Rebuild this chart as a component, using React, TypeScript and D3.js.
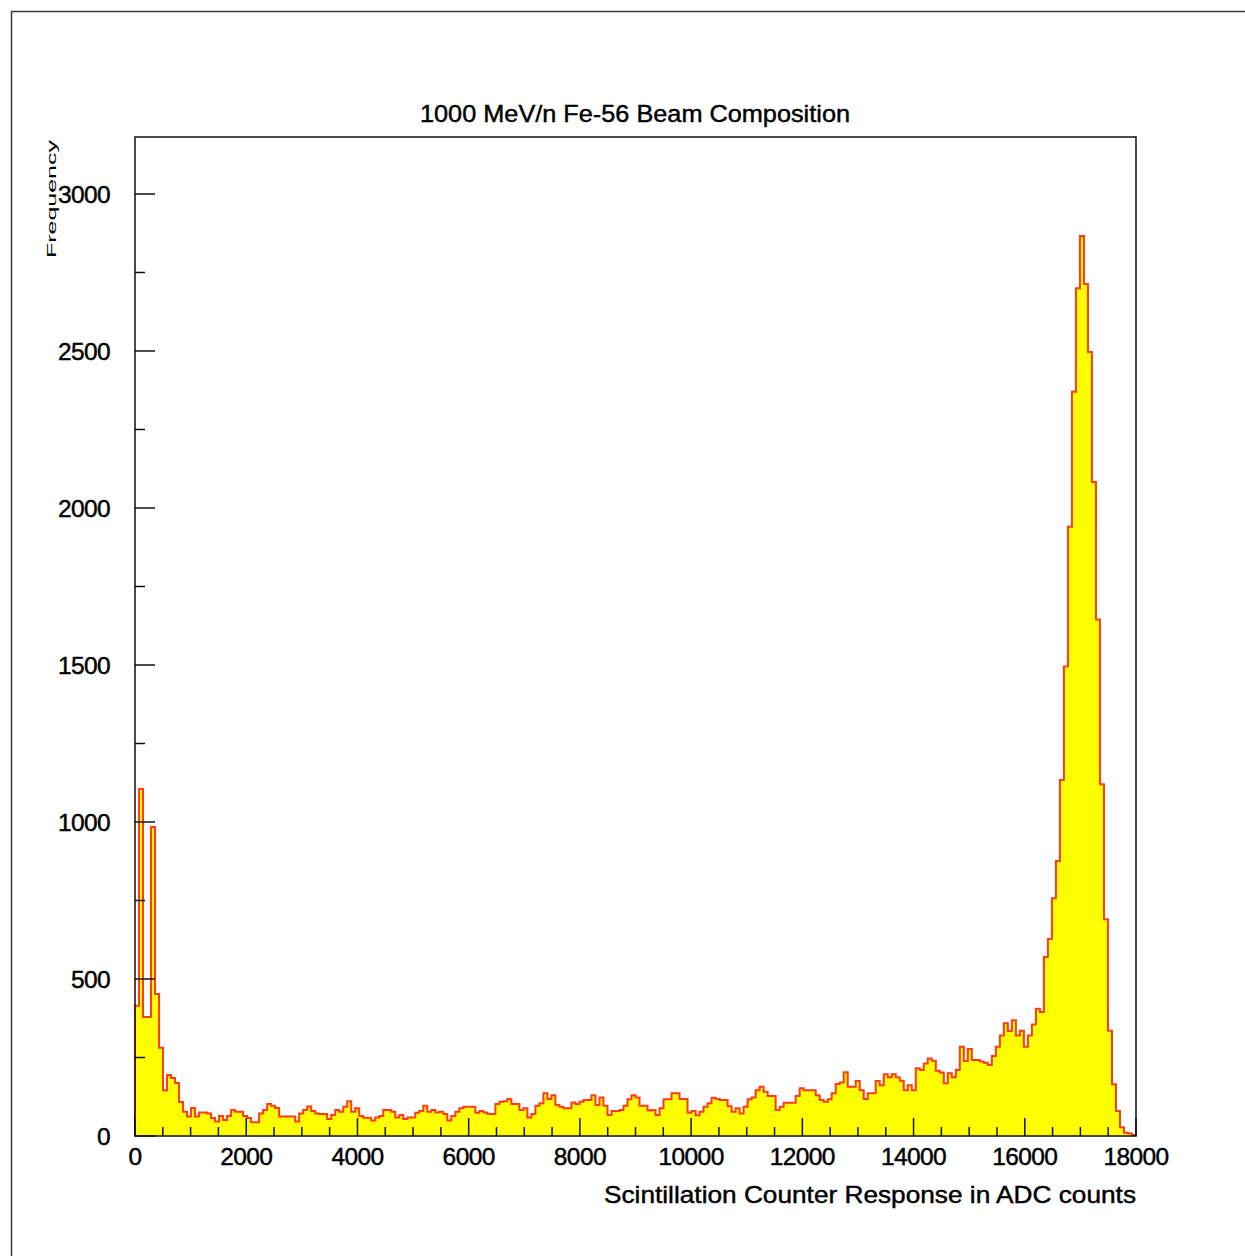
import * as d3 from 'd3'

// histogram: 250 bins of 72 ADC counts each, 0..18000
const binWidth = 72
const counts = [
  415, 1105, 379, 379, 984, 452, 281, 146, 194, 185,
  169, 108, 77, 62, 89, 62, 75, 75, 72, 57,
  46, 64, 51, 64, 83, 77, 77, 64, 57, 44,
  44, 72, 83, 102, 96, 89, 62, 62, 62, 62,
  46, 72, 83, 94, 80, 72, 70, 70, 54, 67,
  83, 77, 93, 111, 77, 88, 64, 58, 58, 49,
  59, 64, 83, 83, 77, 59, 67, 54, 59, 59,
  74, 80, 96, 77, 83, 75, 77, 70, 49, 64,
  77, 88, 93, 93, 93, 74, 80, 75, 70, 70,
  102, 109, 111, 118, 102, 102, 83, 88, 59, 70,
  96, 104, 136, 118, 130, 99, 93, 88, 88, 107,
  102, 109, 115, 115, 130, 99, 123, 96, 67, 80,
  80, 83, 96, 117, 130, 123, 96, 96, 81, 83,
  67, 88, 117, 117, 136, 136, 118, 118, 74, 80,
  66, 77, 93, 104, 122, 118, 115, 115, 95, 77,
  88, 72, 93, 117, 123, 146, 157, 141, 127, 127,
  83, 93, 106, 106, 106, 127, 152, 146, 146, 146,
  130, 115, 109, 117, 136, 166, 170, 203, 157, 157,
  175, 146, 118, 136, 136, 175, 162, 197, 187, 197,
  187, 176, 146, 162, 146, 216, 210, 231, 247, 240,
  208, 202, 168, 200, 187, 210, 284, 239, 277, 242,
  242, 237, 233, 226, 255, 284, 320, 359, 334, 369,
  320, 335, 284, 320, 355, 405, 395, 570, 627, 757,
  876, 1134, 1495, 1940, 2370, 2700, 2866, 2713, 2497, 2083,
  1645, 1120, 690, 335, 165, 80, 28, 10, 8, 3,
]

const xTicks = [0, 2000, 4000, 6000, 8000, 10000, 12000, 14000, 16000, 18000]
const yTicks = [0, 500, 1000, 1500, 2000, 2500, 3000]

const title = '1000 MeV/n Fe-56 Beam Composition'
const xTitle = 'Scintillation Counter Response in ADC counts'
const yTitle = 'Frequency'

export default function App() {
  const width = 1245
  const height = 1256
  const left = 135
  const right = 1136
  const top = 137
  const bottom = 1136

  const x = d3.scaleLinear().domain([0, 18000]).range([left, right])
  const y = d3.scaleLinear().domain([0, 3181.5]).range([bottom, top])

  // step points: start at baseline, one point per bin, close at the last edge
  const pts: [number, number][] = [[0, 0]]
  counts.forEach((c, i) => pts.push([i * binWidth, c]))
  pts.push([counts.length * binWidth, counts[counts.length - 1]])
  pts.push([counts.length * binWidth, 0])

  const area = d3.area<[number, number]>()
    .x(d => x(d[0]))
    .y0(y(0))
    .y1(d => y(d[1]))
    .curve(d3.curveStepAfter)

  const line = d3.line<[number, number]>()
    .x(d => x(d[0]))
    .y(d => y(d[1]))
    .curve(d3.curveStepAfter)

  const xMinor = d3.range(0, 18001, 500)
  const yMinor = d3.range(0, 3001, 250)
  const font = '"Liberation Sans", Arial, sans-serif'

  return (
    <div style={{ position: 'absolute', left: 0, top: 0 }}>
      <svg width={width} height={height} style={{ display: 'block', background: '#fff' }}>
        {/* outer frame */}
        <rect x={11.5} y={11.5} width={1400} height={1400} fill="none" stroke="#3a3a3a" strokeWidth={1.5} />

        <path d={area(pts) || ''} fill="#ffff00" />
        <path d={line(pts) || ''} fill="none" stroke="#ff3c14" strokeWidth={2} />

        {/* plot frame */}
        <rect x={left} y={top} width={right - left} height={bottom - top} fill="none" stroke="#111" strokeWidth={1.5} />

        {/* x ticks */}
        {xMinor.map(v => {
          const major = v % 2000 === 0
          return (
            <line key={'xt' + v} x1={x(v)} x2={x(v)} y1={bottom} y2={bottom - (major ? 18 : 9)}
              stroke="#111" strokeWidth={1.5} />
          )
        })}
        {/* y ticks */}
        {yMinor.map(v => {
          const major = v % 500 === 0
          return (
            <line key={'yt' + v} x1={left} x2={left + (major ? 20 : 10)} y1={y(v)} y2={y(v)}
              stroke="#111" strokeWidth={1.5} />
          )
        })}

        <g fontFamily={font} fontSize={24.5} fill="#000" stroke="#000" strokeWidth={0.45}>
          {xTicks.map(v => (
            <text key={'xl' + v} x={x(v)} y={1165} textAnchor="middle" letterSpacing={-0.6}>{v}</text>
          ))}
          {yTicks.map(v => (
            <text key={'yl' + v} x={110} y={y(v) + 9} textAnchor="end" letterSpacing={-0.6}>{v}</text>
          ))}
          <text x={420} y={122} textLength={430} lengthAdjust="spacingAndGlyphs">{title}</text>
          <text x={604} y={1203} textLength={532} lengthAdjust="spacingAndGlyphs">{xTitle}</text>
        </g>

        <text transform="translate(56,258) rotate(-90)" fontFamily={font} fontSize={12}
          textLength={118} lengthAdjust="spacingAndGlyphs">{yTitle}</text>
      </svg>
    </div>
  )
}
